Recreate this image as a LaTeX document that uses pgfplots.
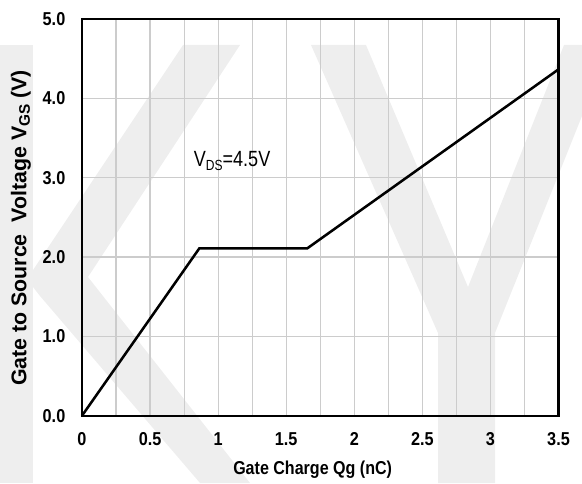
\documentclass[border=0pt]{standalone}
\usepackage{pgfplots}
\pgfplotsset{compat=1.18}
\usepackage{fontspec}
\setmainfont{Liberation Sans}
\newfontfamily\narrowfont{Liberation Sans}[FakeStretch=0.87]
\newfontfamily\annfont{Liberation Sans}[FakeStretch=0.82]
\newfontfamily\xlabfont{Liberation Sans}[FakeStretch=0.86]
\definecolor{wm}{gray}{0.935}
\definecolor{gridc}{gray}{0.80}
\begin{document}
\begin{tikzpicture}
\useasboundingbox (0,0) rectangle (436.5pt,362.25pt);
% watermark (background decoration, pixel coordinates)
\begin{scope}[x=0.75pt,y=-0.75pt,yshift=362.25pt]
\fill[wm] (0,45) rectangle (33,483);
\fill[wm] (183,45) -- (240,45) -- (88,277) -- (250,483) -- (200,483) -- (40,296) -- (33,287) -- (33,270) -- cycle;
\fill[wm] (311,45) -- (366,45) -- (468,287) -- (564,45) -- (582,45) -- (582,116) -- (495,333) -- (495,483) -- (438,483) -- (438,333) -- cycle;
\end{scope}
\begin{axis}[
  scale only axis,
  at={(61.5pt,50.475pt)}, anchor=south west,
  width=357.4pt, height=297.5pt,
  xmin=0, xmax=3.5, ymin=0, ymax=5,
  xtick={0,0.5,1,1.5,2,2.5,3,3.5},
  xticklabels={0,0.5,1,1.5,2,2.5,3,3.5},
  minor xtick={0.25,0.75,1.25,1.75,2.25,2.75,3.25},
  ytick={0,1,2,3,4,5},
  yticklabels={0.0,1.0,2.0,3.0,4.0,5.0},
  major tick length=0pt, minor tick length=0pt,
  xmajorgrids, xminorgrids, ymajorgrids,
  grid style={gridc, line width=0.9pt},
  minor grid style={gridc, line width=0.9pt},
  axis line style={black, line width=1.6pt},
  ticklabel style={font=\narrowfont\bfseries\fontsize{14}{15}\selectfont},
  xticklabel style={yshift=-9pt},
  yticklabel style={xshift=-9pt},
  xlabel={Gate Charge Qg (nC)},
  xlabel style={font=\xlabfont\bfseries\fontsize{14}{15}\selectfont, at={(axis description cs:0.484,-0.137)}, anchor=center},
  ylabel={Gate to Source\ \ Voltage V\raisebox{-0.3ex}{\fontsize{11.5}{11.5}\selectfont GS} (V)},
  ylabel style={font=\bfseries\fontsize{16}{17}\selectfont, at={(axis description cs:-0.128,0.473)}, anchor=center},
  clip=false,
]
\addplot[black, line width=1.9pt, line join=miter] coordinates {(0,0) (0.862,2.11) (1.655,2.11) (3.5,4.366)};
\node[anchor=west, font=\annfont\fontsize{16.5}{17}\selectfont, inner sep=0pt] at (axis cs:0.82,3.21) {V\raisebox{-0.35ex}{\fontsize{11}{11}\selectfont DS}=4.5V};
\end{axis}
\end{tikzpicture}
\end{document}
